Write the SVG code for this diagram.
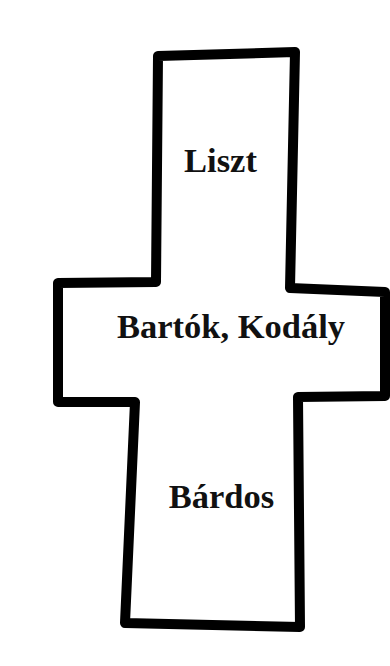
<svg xmlns="http://www.w3.org/2000/svg" width="390" height="666" viewBox="0 0 390 666">
<style>
.outline{fill:none;stroke:#000;stroke-width:10;stroke-linejoin:round;stroke-linecap:round}
.lbl{font-family:"Liberation Serif","Times New Roman",serif;font-weight:bold;font-size:34.5px;fill:#111;text-anchor:middle}
</style>
<rect width="390" height="666" fill="#fff"/>
<g id="cross">
<path class="outline" d="M158,56 L295,52 L290,288 L385,292 L385,396 L298,397 L300,627 L125,623 L135,402 L58,402 L58,283 L156,282 Z"/>
</g>
<g id="liszt"><text class="lbl" x="220.5" y="172">Liszt</text></g>
<g id="bartok-kodaly"><text class="lbl" x="231" y="338">Bartók, Kodály</text></g>
<g id="bardos"><text class="lbl" x="221.5" y="508">Bárdos</text></g>
</svg>
